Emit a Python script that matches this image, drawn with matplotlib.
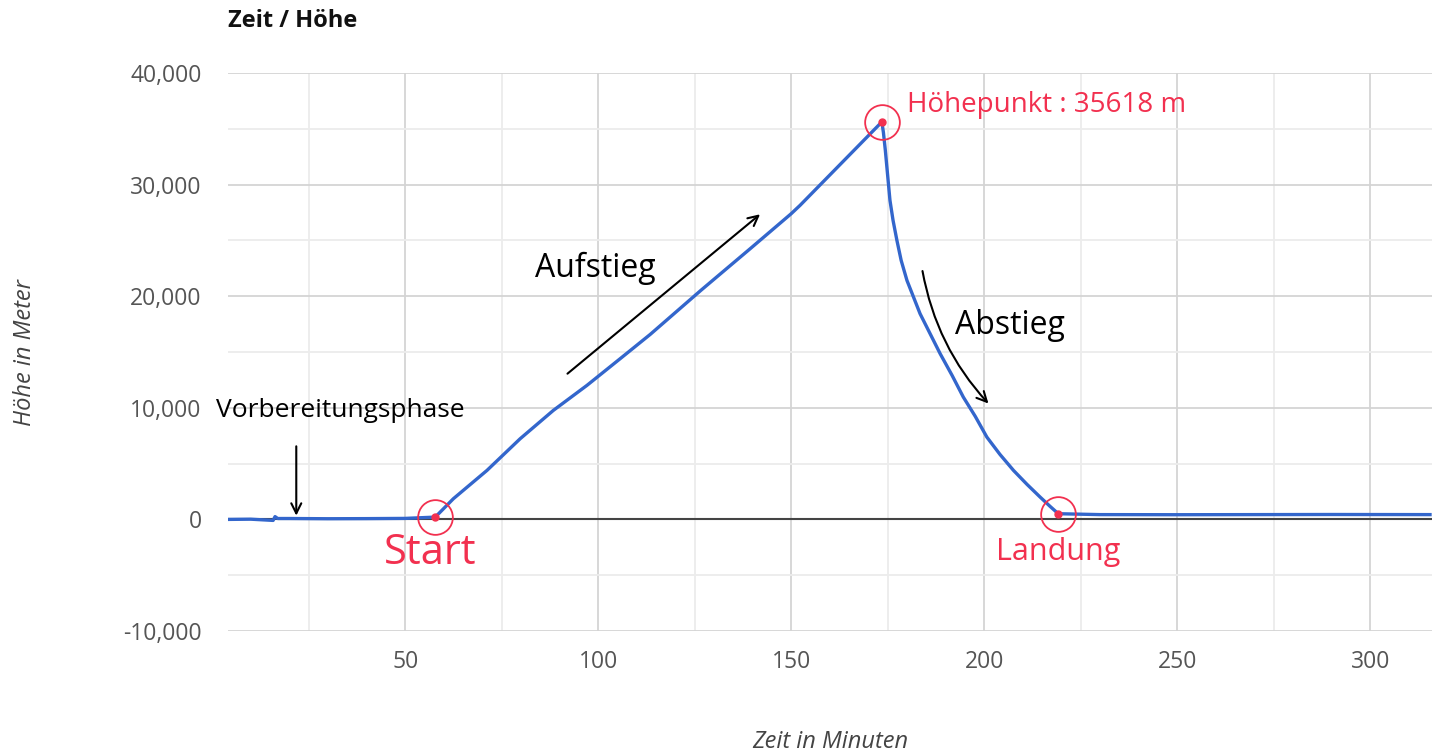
import matplotlib
matplotlib.use("Agg")
import matplotlib.pyplot as plt
from matplotlib.ticker import FuncFormatter, MultipleLocator

# Flugprofil: Zeit (Minuten) / Höhe (Meter)
zeit = [4.2, 10, 15.8, 16.3, 17, 20, 30, 40, 50, 57.8,
        62.5, 71.2, 79.8, 88.4, 97.1, 105.7, 113.5, 126.6, 139.4, 150, 152.3, 173.5,
        173.9, 174.4, 175.0, 175.6, 176.4, 177.4, 178.5, 180, 183.4, 186.0, 188.6,
        191.7, 194.6, 197.7, 200.7, 204.1, 207.6, 211.1, 214.5, 217.1, 219.2,
        230, 250, 270, 290, 315.5]
hoehe = [0, 20, -90, 250, 80, 80, 60, 70, 90, 206,
         1855, 4390, 7230, 9770, 12010, 14400, 16580, 20520, 24260, 27390, 28140, 35618,
         34677, 33065, 30824, 28585, 26792, 25000, 23208, 21415, 18430, 16640, 14850,
         12900, 10960, 9230, 7375, 5820, 4390, 3140, 2000, 1160, 510,
         430, 420, 430, 440, 430]

idx_start = 9
idx_peak = 21
idx_landung = 42

x_ticks = [50, 100, 150, 200, 250, 300]
y_ticks = [-10000, 0, 10000, 20000, 30000, 40000]

blau = "#3366cc"
rot = "#f2304f"

plt.rcParams["font.family"] = ["Open Sans", "DejaVu Sans"]

fig = plt.figure(figsize=(14.4, 7.52), dpi=100)
ax = fig.add_axes([0.1583, 0.1609, 0.8361, 0.742])

ax.set_xlim(4.1, 316)
ax.set_ylim(-10000, 40000)
ax.set_xticks(x_ticks)
ax.set_yticks(y_ticks)
ax.xaxis.set_minor_locator(MultipleLocator(25))
ax.yaxis.set_minor_locator(MultipleLocator(5000))
ax.yaxis.set_major_formatter(FuncFormatter(lambda v, p: f"{v:,.0f}"))

ax.grid(which="major", color="#d4d4d4", lw=1.3)
ax.grid(which="minor", color="#ececec", lw=1.3)
ax.set_axisbelow(True)
for s in ax.spines.values():
    s.set_visible(False)
ax.tick_params(which="both", length=0)
ax.tick_params(axis="y", labelsize=16.5, labelcolor="#555555", pad=19)
ax.tick_params(axis="x", labelsize=16.5, labelcolor="#555555", pad=14)
ax.axhline(0, color="#444444", lw=1.5, zorder=2)

ax.plot(zeit, hoehe, color=blau, lw=2.4, zorder=3, solid_joinstyle="round")

# markierte Punkte
for i in (idx_start, idx_peak, idx_landung):
    ax.plot(zeit[i], hoehe[i], "o", color=rot, ms=5, zorder=4)
    ax.plot(zeit[i], hoehe[i], "o", mfc="none", mec=rot, mew=1.3, ms=25, zorder=4)

fig.text(228 / 1440, 1 - 21 / 752, "Zeit / Höhe", fontsize=17, fontweight="bold",
         va="center", ha="left", color="#111111")
ax.set_xlabel("Zeit in Minuten", fontsize=17, style="italic", color="#444444", labelpad=40)
ax.set_ylabel("Höhe in Meter", fontsize=17, style="italic", color="#444444", labelpad=62)

# Beschriftungen
ax.text(33.2, 9770, "Vorbereitungsphase", fontsize=19, ha="center", va="center", color="black")
ax.annotate("", xy=(21.8, 90), xytext=(21.8, 6800),
            arrowprops=dict(arrowstyle="->", color="black", lw=1.5, mutation_scale=18))
ax.text(99.2, 22490, "Aufstieg", fontsize=23, ha="center", va="center", color="black")
ax.annotate("", xy=(142.5, 27500), xytext=(91.5, 12900),
            arrowprops=dict(arrowstyle="->", color="black", lw=1.5, mutation_scale=18))
ax.text(206.7, 17380, "Abstieg", fontsize=23, ha="center", va="center", color="black")
ax.annotate("", xy=(201.6, 10200), xytext=(183.9, 22500),
            arrowprops=dict(arrowstyle="->", color="black", lw=1.5, mutation_scale=18,
                            connectionstyle="arc3,rad=0.15"))

ax.text(zeit[idx_start] - 1.3, -3050, "Start", fontsize=30, ha="center", va="center", color=rot)
ax.text(zeit[idx_landung], -2960, "Landung", fontsize=22, ha="center", va="center", color=rot)
ax.text(180.1, 37100, f"Höhepunkt : {hoehe[idx_peak]} m", fontsize=20, ha="left",
        va="center", color=rot)

fig.savefig("out.png", dpi=100)
